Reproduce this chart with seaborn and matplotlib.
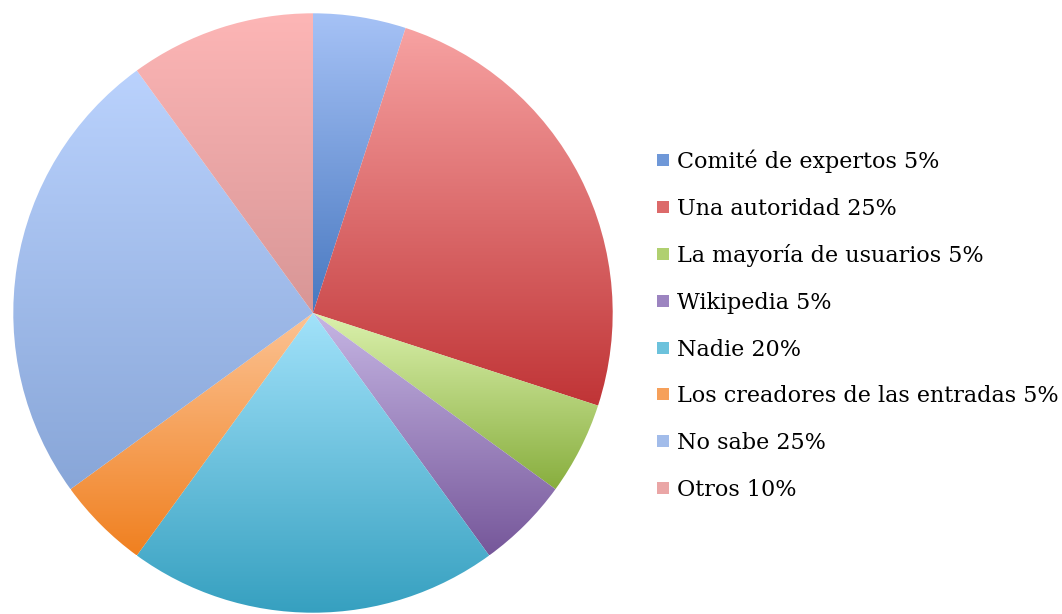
import numpy as np
import matplotlib
matplotlib.use("Agg")
import matplotlib.pyplot as plt
from matplotlib.colors import LinearSegmentedColormap
from matplotlib.lines import Line2D
import seaborn as sns

sns.set_theme(style="white")
plt.rcParams['font.family'] = ['DejaVu Serif']
plt.rcParams['text.color'] = 'black'

categories = ['Comité de expertos', 'Una autoridad', 'La mayoría de usuarios', 'Wikipedia',
              'Nadie', 'Los creadores de las entradas', 'No sabe', 'Otros']
values = [5, 25, 5, 5, 20, 5, 25, 10]
# (light top, dark bottom) for each slice
top_colors = ['#a6c2f6', '#f7a2a2', '#dcf2ae', '#c6b6e4', '#a2e2fa', '#fcc394', '#bad2fd', '#fdb6b6']
bottom_colors = ['#4878c0', '#c03436', '#88ae3e', '#76579a', '#36a0c0', '#f08020', '#88a6d8', '#d89696']
mid_colors = ['#6f98d8', '#dc6a6a', '#b0d070', '#9c84c0', '#6cc2dc', '#f6a05a', '#a2bcea', '#eaa6a6']

fig = plt.figure(figsize=(10.62, 6.14), dpi=100)
ax = fig.add_axes([13 / 1062, 1 / 614, 600 / 1062, 600 / 614])
wedges, _ = ax.pie(values, startangle=90, counterclock=False, radius=1,
                   wedgeprops=dict(linewidth=0))
ax.set_aspect('equal')
ax.axis('off')

# vertical gradient inside every wedge
grad = np.linspace(0, 1, 256).reshape(-1, 1)
for w, c1, c2 in zip(wedges, top_colors, bottom_colors):
    ext = w.get_path().get_extents()
    cmap = LinearSegmentedColormap.from_list('g', [c1, c2])
    im = ax.imshow(grad, cmap=cmap, aspect='auto', origin='upper',
                   extent=[ext.x0, ext.x1, ext.y0, ext.y1], zorder=2)
    w.set_facecolor('none')
    im.set_clip_path(w)

ax.set_xlim(-1.001, 1.001)
ax.set_ylim(-1.001, 1.001)

handles = [Line2D([], [], marker='s', linestyle='none', markersize=9,
                  markerfacecolor=c, markeredgewidth=0) for c in mid_colors]
labels = [f'{c} {v}%' for c, v in zip(categories, values)]
fig.legend(handles, labels, loc='center left', bbox_to_anchor=(645 / 1062, 1 - 325 / 614),
           frameon=False, fontsize=16, handlelength=0.6, handletextpad=0.35,
           labelspacing=1.11, borderpad=0, labelcolor='black')

fig.savefig('out.png', dpi=100)
